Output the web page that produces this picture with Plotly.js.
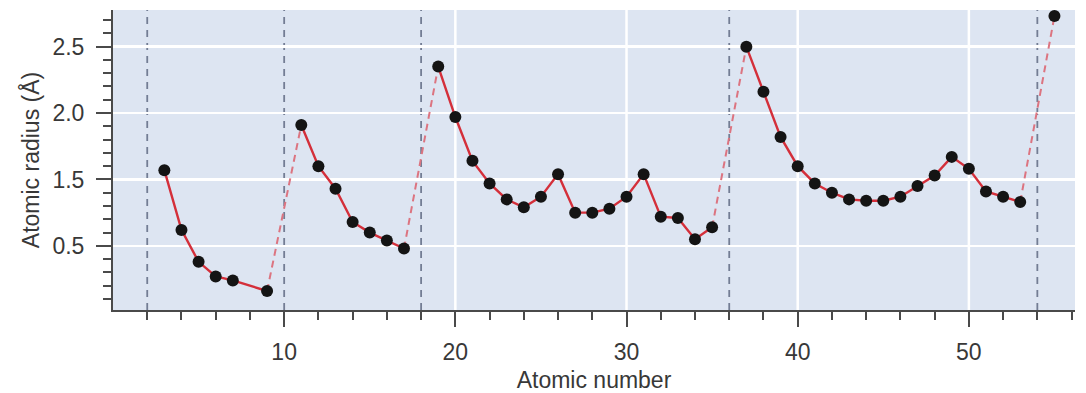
<!DOCTYPE html>
<html>
<head>
<meta charset="utf-8">
<script src="https://cdn.plot.ly/plotly-3.0.1.min.js"></script>
<style>
  html, body { margin: 0; padding: 0; background: #ffffff; }
  #chart { width: 1086px; height: 393px; }
</style>
</head>
<body>
<div id="chart"></div>
<script>
// Atomic numbers shown (elements with a plotted radius)
const atomicNumber = [3, 4, 5, 6, 7, 9,
  11, 12, 13, 14, 15, 16, 17,
  19, 20, 21, 22, 23, 24, 25, 26, 27, 28, 29, 30, 31, 32, 33, 34, 35,
  37, 38, 39, 40, 41, 42, 43, 44, 45, 46, 47, 48, 49, 50, 51, 52, 53,
  55];
// Atomic radius values (axis units)
const radius = [1.57, 1.12, 0.88, 0.77, 0.74, 0.66,
  1.91, 1.60, 1.43, 1.18, 1.10, 1.04, 0.98,
  2.35, 1.97, 1.64, 1.47, 1.35, 1.29, 1.37, 1.54, 1.25, 1.25, 1.28, 1.37, 1.54, 1.22, 1.21, 1.05, 1.14,
  2.50, 2.16, 1.82, 1.60, 1.47, 1.40, 1.35, 1.34, 1.34, 1.37, 1.45, 1.53, 1.67, 1.58, 1.41, 1.37, 1.33,
  2.73];
// Noble gases: period boundaries (dashed vertical lines)
const nobleGases = [2, 10, 18, 36, 54];
// Axis ticks
const xTickVals = [10, 20, 30, 40, 50];
const xTickText = ["10", "20", "30", "40", "50"];
const yTickVals = [1.0, 1.5, 2.0, 2.5];
const yTickText = ["0.5", "1.5", "2.0", "2.5"];
const xGridVals = [20, 30, 40, 50];

// Split data into periods separated by noble gases
const periods = [];
let cur = null;
atomicNumber.forEach((z, i) => {
  const p = nobleGases.filter(g => g < z).length;
  if (!cur || cur.p !== p) { cur = { p: p, x: [], y: [] }; periods.push(cur); }
  cur.x.push(z); cur.y.push(radius[i]);
});

const traces = [];
// dashed connectors between periods
for (let k = 0; k < periods.length - 1; k++) {
  const a = periods[k], b = periods[k + 1];
  traces.push({
    x: [a.x[a.x.length - 1], b.x[0]],
    y: [a.y[a.y.length - 1], b.y[0]],
    mode: 'lines', type: 'scatter', hoverinfo: 'skip',
    line: { color: '#dc7480', width: 2, dash: '7px,5px' },
    showlegend: false
  });
}
// solid period segments with markers
periods.forEach(p => {
  traces.push({
    x: p.x, y: p.y, mode: 'lines+markers', type: 'scatter',
    line: { color: '#d42f3a', width: 2.4 },
    marker: { color: '#141414', size: 12 },
    showlegend: false
  });
});

const shapes = [];
xGridVals.forEach(v => shapes.push({
  type: 'line', xref: 'x', yref: 'paper', x0: v, x1: v, y0: 0, y1: 1,
  line: { color: '#ffffff', width: 2.5 }, layer: 'below'
}));
nobleGases.forEach(v => shapes.push({
  type: 'line', xref: 'x', yref: 'paper', x0: v, x1: v, y0: 0, y1: 1,
  line: { color: '#737d94', width: 1.8, dash: '7px,6px' }, layer: 'below'
}));

const minorX = [];
for (let v = 2; v <= 56; v += 2) minorX.push(v);
const minorY = [];
for (let v = 6; v <= 27; v += 1) minorY.push(v / 10);

const font = { family: '"Liberation Sans", Arial, sans-serif', color: '#383838' };

const layout = {
  width: 1086, height: 393,
  margin: { l: 113, r: 11, t: 10, b: 83 },
  paper_bgcolor: '#ffffff',
  plot_bgcolor: '#dde5f2',
  font: font,
  showlegend: false,
  xaxis: {
    range: [0, 56.2],
    tickmode: 'array', tickvals: xTickVals, ticktext: xTickText,
    ticks: 'outside', ticklen: 15, tickwidth: 2, tickcolor: '#4a4a4a',
    showgrid: false, zeroline: false,
    showline: true, linecolor: '#4a4a4a', linewidth: 2,
    tickfont: { size: 23, color: '#383838', family: font.family },
    ticklabelstandoff: 5,
    minor: { tickmode: 'array', tickvals: minorX, ticks: 'outside', ticklen: 8, tickwidth: 2, tickcolor: '#4a4a4a', showgrid: false },
    title: { text: 'Atomic number', font: { size: 23, color: '#383838', family: font.family }, standoff: 9 }
  },
  yaxis: {
    range: [0.517, 2.776],
    tickmode: 'array', tickvals: yTickVals, ticktext: yTickText,
    ticks: 'outside', ticklen: 15, tickwidth: 2, tickcolor: '#4a4a4a',
    showgrid: true, gridcolor: '#ffffff', gridwidth: 2.5, zeroline: false,
    showline: true, linecolor: '#4a4a4a', linewidth: 2,
    tickfont: { size: 23, color: '#383838', family: font.family },
    ticklabelstandoff: 7,
    minor: { tickmode: 'array', tickvals: minorY, ticks: 'outside', ticklen: 8, tickwidth: 2, tickcolor: '#4a4a4a', showgrid: false },
    title: { text: 'Atomic radius (Å)', font: { size: 23, color: '#383838', family: font.family }, standoff: 6 }
  },
  shapes: shapes
};

Plotly.newPlot('chart', traces, layout, { displayModeBar: false, staticPlot: true });
</script>
</body>
</html>
